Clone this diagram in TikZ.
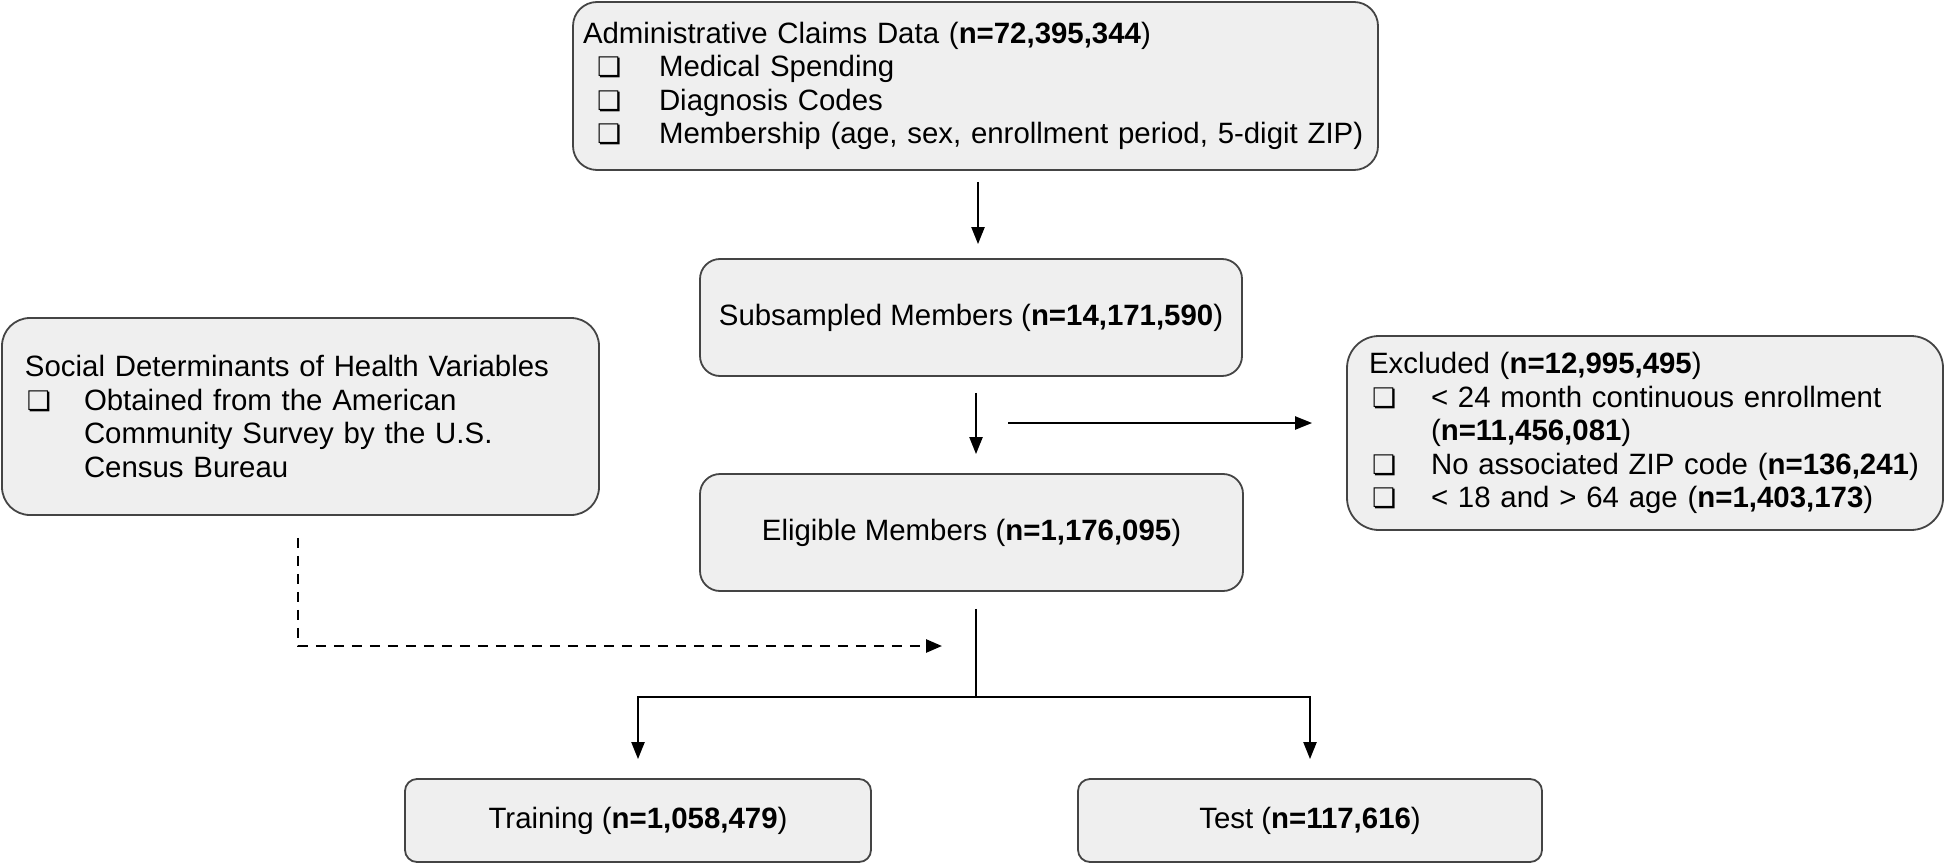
\documentclass[tikz,border=0pt]{standalone}
\usepackage{fontspec}
\setmainfont{Liberation Sans}
\newfontfamily\dejavu{DejaVu Sans}
\usetikzlibrary{arrows.meta}
\newcommand{\cbx}[2]{\makebox[#1][l]{\hspace*{#2}{\dejavu\fontsize{13.5}{13.5}\selectfont ❏}}}
\begin{document}
\begin{tikzpicture}[x=0.5pt,y=-0.5pt,
  box/.style={draw=boxline, fill=boxfill, line width=0.9pt, font=\fontsize{14.7}{16.8}\selectfont, inner ysep=0pt},
  cbox/.style={box, align=center},
  lbox/.style={box, align=left},
  arr/.style={line width=1.1pt, -{Triangle[length=8.5pt,width=6.5pt]}},
  plainline/.style={line width=1.1pt},
  dasharr/.style={line width=1.3pt, dash pattern=on 5pt off 4pt, -{Triangle[length=8pt,width=6.5pt]}}
]
\definecolor{boxfill}{HTML}{EFEFEF}
\definecolor{boxline}{HTML}{444444}
\useasboundingbox (0,0) rectangle (1946,866);

% boxes
\node[lbox, rounded corners=12pt, minimum width=402.5pt, minimum height=84pt, inner xsep=5pt, text width=392.5pt]
  (top) at (975.5,86) {Administrative Claims Data (\textbf{n=72,395,344})\\
  \cbx{38pt}{7pt}Medical Spending\\
  \cbx{38pt}{7pt}Diagnosis Codes\\
  \mbox{\cbx{38pt}{7pt}Membership (age, sex, enrollment period, 5-digit ZIP)}};

\node[cbox, rounded corners=10pt, minimum width=271pt, minimum height=58.5pt] (sub) at (971,317.5)
  {Subsampled Members (\textbf{n=14,171,590})};

\node[cbox, rounded corners=10pt, minimum width=271.5pt, minimum height=58.5pt] (eli) at (971.5,532.5)
  {Eligible Members (\textbf{n=1,176,095})};

\node[lbox, rounded corners=14pt, minimum width=298.5pt, minimum height=98.5pt, inner xsep=11.5pt, text width=275.5pt]
  (sdoh) at (300.5,416.5) {Social Determinants of Health Variables\\
  \cbx{29.5pt}{1pt}Obtained from the American\\
  \hspace*{29.5pt}Community Survey by the U.S.\\
  \hspace*{29.5pt}Census Bureau};

\node[lbox, rounded corners=16pt, minimum width=298pt, minimum height=97pt, inner xsep=11pt, text width=276pt]
  (excl) at (1645,433) {Excluded (\textbf{n=12,995,495})\\
  \mbox{\cbx{31pt}{1.5pt}< 24 month continuous enrollment}\\
  \hspace*{31pt}(\textbf{n=11,456,081})\\
  \mbox{\cbx{31pt}{1.5pt}No associated ZIP code (\textbf{n=136,241})}\\
  \mbox{\cbx{31pt}{1.5pt}< 18 and > 64 age (\textbf{n=1,403,173})}};

\node[cbox, rounded corners=6pt, minimum width=233pt, minimum height=41.5pt] (train) at (638,820.5)
  {Training (\textbf{n=1,058,479})};

\node[cbox, rounded corners=6pt, minimum width=232pt, minimum height=41.5pt] (test) at (1310,820.5)
  {Test (\textbf{n=117,616})};

% helper coordinates
\coordinate (split1) at (976,423);
\coordinate (jn) at (976,697);
\coordinate (dashend) at (942,646);

% connectors
\draw[arr, shorten <=5.5pt, shorten >=7pt] ([xshift=1.25pt]top.south) -- ([xshift=1.25pt]top.south |- sub.north);
\draw[arr, shorten <=8pt, shorten >=9.5pt] ([xshift=2.5pt]sub.south) -- ([xshift=2.5pt]sub.south |- eli.north);
\draw[arr, shorten <=16pt, shorten >=17pt] (split1) -- (split1 -| excl.west);
\draw[plainline] ([xshift=2.25pt,yshift=-8.5pt]eli.south) -- (jn);
\draw[arr, shorten >=9.5pt] (jn) -| (train.north);
\draw[arr, shorten >=9.5pt] (jn) -| (test.north);
\draw[dasharr, shorten <=11pt] ([xshift=-1.25pt]sdoh.south) |- (dashend);
\end{tikzpicture}
\end{document}
